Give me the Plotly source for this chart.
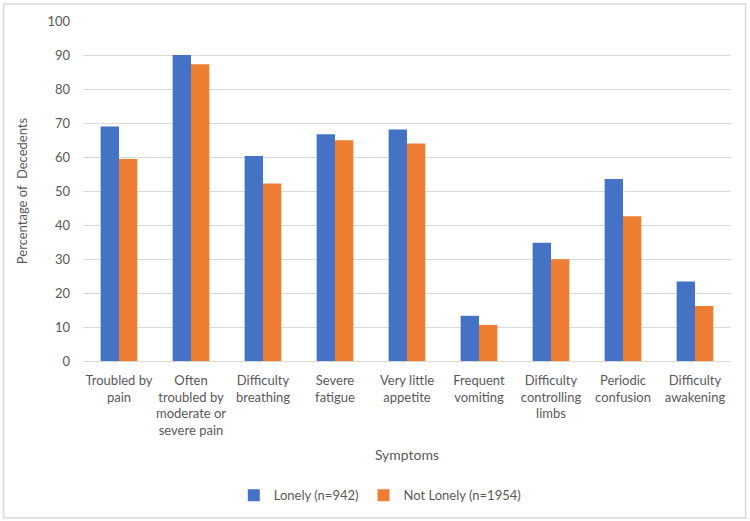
import plotly.graph_objects as go

categories = [
    "Troubled by<br>pain",
    "Often<br>troubled by<br>moderate or<br>severe pain",
    "Difficulty<br>breathing",
    "Severe<br>fatigue",
    "Very little<br>appetite",
    "Frequent<br>vomiting",
    "Difficulty<br>controlling<br>limbs",
    "Periodic<br>confusion",
    "Difficulty<br>awakening",
]
lonely = [69.0, 90.0, 60.3, 66.7, 68.1, 13.3, 34.8, 53.5, 23.4]
not_lonely = [59.4, 87.3, 52.2, 64.9, 64.0, 10.6, 29.9, 42.6, 16.2]
y_ticks = [0, 10, 20, 30, 40, 50, 60, 70, 80, 90, 100]

FONT = "Lato, Liberation Sans, Arial"
TXT = "#595959"

fig = go.Figure()
fig.add_trace(go.Bar(x=categories, y=lonely, name="Lonely (n=942)",
                     marker=dict(color="#4472C4", line=dict(width=0))))
fig.add_trace(go.Bar(x=categories, y=not_lonely, name="Not Lonely (n=1954)",
                     marker=dict(color="#ED7D31", line=dict(width=0))))

fig.update_layout(
    width=750, height=521,
    margin=dict(l=83, r=19, t=21, b=160, autoexpand=False),
    paper_bgcolor="white", plot_bgcolor="white",
    font=dict(family=FONT, size=13, color=TXT),
    barmode="group", bargap=0.49, bargroupgap=0,
    showlegend=True,
    legend=dict(orientation="h", x=0.458, xanchor="center", y=-0.395, yanchor="middle",
                font=dict(size=13, color=TXT), itemwidth=30, tracegroupgap=0),
    xaxis=dict(
        title=dict(text="Symptoms", font=dict(size=14, color=TXT), standoff=12),
        showgrid=False, showline=True, linecolor="#D9D9D9", linewidth=1,
        ticks="", tickfont=dict(size=13, color=TXT), tickangle=0, automargin=False,
        ticklabelstandoff=7,
    ),
    yaxis=dict(
        title=dict(text="Percentage of  Decedents", font=dict(size=13, color=TXT), standoff=16),
        range=[0, 100], tickvals=y_ticks, showgrid=True, gridcolor="#D9D9D9",
        gridwidth=1, zeroline=False, showline=False, ticks="", automargin=False,
        ticklabelstandoff=12, tickfont=dict(size=13, color=TXT),
    ),
    shapes=[dict(type="rect", xref="paper", yref="paper",
                 x0=-0.1225, x1=1.0225, y0=-0.4615, y1=1.05,
                 line=dict(color="#D9D9D9", width=1.5), fillcolor="rgba(0,0,0,0)")],
)

fig.write_html(
    "out.html",
    config={"displayModeBar": False},
    post_script="document.body.style.margin='0';document.body.style.overflow='hidden';",
)
